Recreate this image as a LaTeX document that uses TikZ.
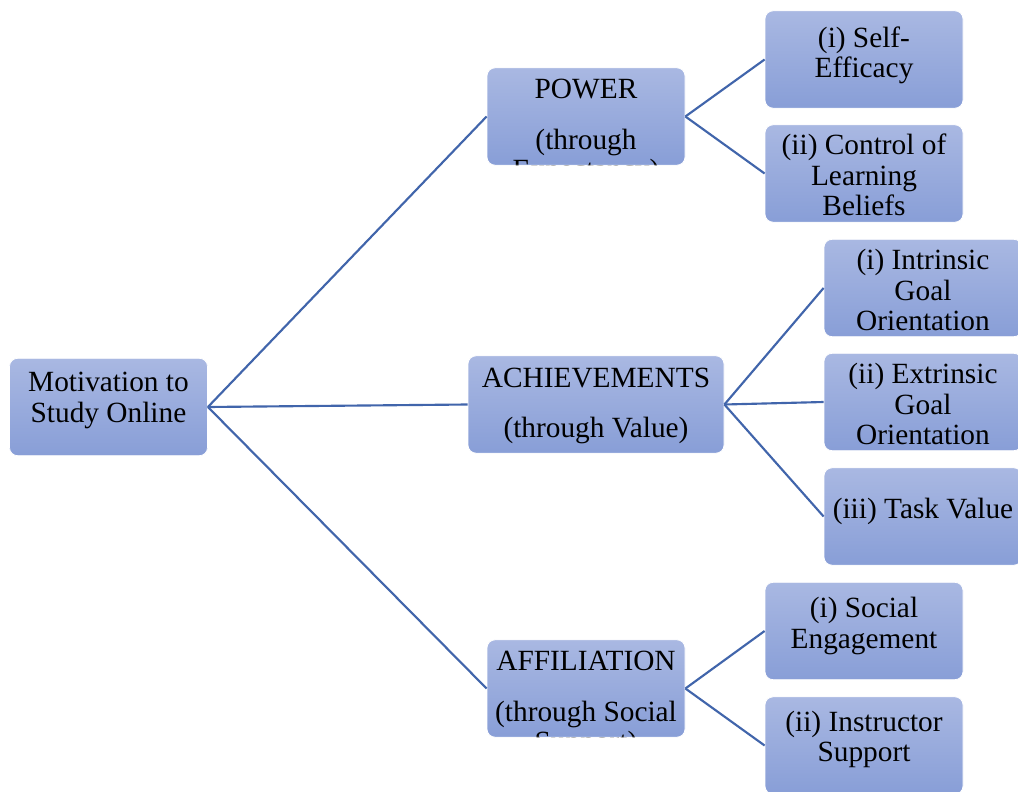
\documentclass[tikz,border=0pt]{standalone}
\usepackage{fontspec}
\setmainfont{Liberation Serif}
\definecolor{boxtop}{HTML}{A9B8E2}
\definecolor{boxbot}{HTML}{889ED7}
\definecolor{linkblue}{HTML}{4165AB}
\tikzset{
  txt/.style={align=center, inner sep=0pt, font=\fontsize{22}{23}\selectfont},
  % box: #1 = baseline of last line below the top (px), #2 = text
  box/.style 2 args={rounded corners=6pt, draw=white, line width=0.6pt,
    top color=boxtop, bottom color=boxbot, inner sep=0pt,
    minimum width=148.5pt, minimum height=73pt,
    path picture={\node[txt, anchor=base] at ([yshift={-#1*0.75pt}]path picture bounding box.north) {#2};}},
  link/.style={draw=linkblue, line width=1.6pt}
}
\begin{document}
\begin{tikzpicture}[x=0.75pt, y=-0.75pt]
  \fill[white] (0,0) rectangle (1018,792);
  \clip (0,0) rectangle (1018,792);

  % root
  \node[box={64}{Motivation to\\Study Online}] (root) at (108.5,407) {};

  % middle level
  \node[box={112}{POWER\\[15pt](through\\Expectancy)}] (power) at (586,116.5) {};
  \node[box={82}{ACHIEVEMENTS\\[15pt](through Value)}, minimum width=192pt] (achieve) at (596,404.5) {};
  \node[box={112}{AFFILIATION\\[15pt](through Social\\Support)}] (affil) at (586,688.5) {};

  % leaves
  \node[box={67}{(i) Self-\\Efficacy}] (selfeff) at (864,59.5) {};
  \node[box={91}{(ii) Control of\\Learning\\Beliefs}] (control) at (864,173.5) {};
  \node[box={91.5}{(i) Intrinsic\\Goal\\Orientation}] (intrinsic) at (923,288) {};
  \node[box={91.5}{(ii) Extrinsic\\Goal\\Orientation}] (extrinsic) at (923,402) {};
  \node[box={51}{(iii) Task Value}] (taskval) at (923,516.5) {};
  \node[box={66}{(i) Social\\Engagement}] (social) at (864,631) {};
  \node[box={65}{(ii) Instructor\\Support}] (instructor) at (864,745.5) {};

  % connectors
  \draw[link] (root.east) -- (power.west);
  \draw[link] (root.east) -- (achieve.west);
  \draw[link] (root.east) -- (affil.west);
  \draw[link] (power.east) -- (selfeff.west);
  \draw[link] (power.east) -- (control.west);
  \draw[link] (achieve.east) -- (intrinsic.west);
  \draw[link] (achieve.east) -- (extrinsic.west);
  \draw[link] (achieve.east) -- (taskval.west);
  \draw[link] (affil.east) -- (social.west);
  \draw[link] (affil.east) -- (instructor.west);
\end{tikzpicture}
\end{document}
